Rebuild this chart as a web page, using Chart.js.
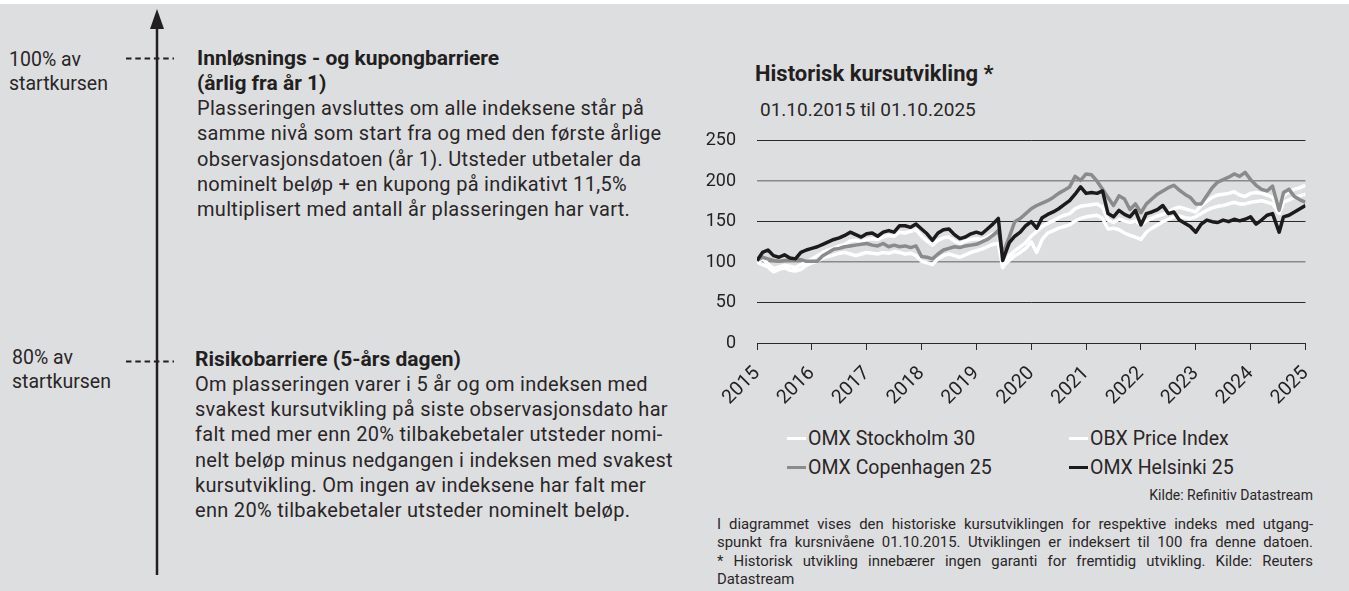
<!DOCTYPE html>
<html><head><meta charset="utf-8">
<script src="https://cdn.jsdelivr.net/npm/chart.js@4"></script>
<style>
html,body{margin:0;padding:0;}
body{width:1349px;height:591px;background:#dddee0;position:relative;overflow:hidden;font-family:Roboto,"DejaVu Sans",sans-serif;color:#231f20;}
#topband{position:absolute;left:0;top:0;width:1349px;height:4px;background:#fff;}
.t{position:absolute;white-space:nowrap;}
.blk{position:absolute;white-space:nowrap;line-height:25.3px;font-size:20px;letter-spacing:0.3px;color:#2a2627;}
.blk .h{font-weight:bold;font-size:21px;letter-spacing:0;color:#231f20;}
.lab{position:absolute;white-space:nowrap;font-size:19.5px;line-height:24px;color:#2a2627;}
.leg{position:absolute;white-space:nowrap;font-size:19.5px;line-height:24px;color:#2a2627;}
.sw{display:inline-block;width:19px;height:3px;vertical-align:middle;margin-right:2px;position:relative;top:-1px;}
.fn{position:absolute;left:717px;top:515px;width:596px;font-size:14.9px;line-height:18.3px;color:#2a2627;}
.fn div{text-align:justify;text-align-last:justify;white-space:nowrap;}
.fn div.last{text-align-last:left;}
</style>
</head><body>
<div id="topband"></div>
<svg style="position:absolute;left:0;top:0" width="400" height="591">
<line x1="157" y1="26" x2="157" y2="575" stroke="#231f20" stroke-width="2.5"/>
<polygon points="157,9 150,29 164,29" fill="#231f20"/>
<line x1="126" y1="58.5" x2="174" y2="58.5" stroke="#231f20" stroke-width="2" stroke-dasharray="5.5,3.8"/>
<line x1="126" y1="361.5" x2="174" y2="361.5" stroke="#231f20" stroke-width="2" stroke-dasharray="5.5,3.8"/>
</svg>
<div class="lab" style="left:9px;top:48px">100% av<br>startkursen</div>
<div class="lab" style="left:12px;top:346px">80% av<br>startkursen</div>
<div class="blk" style="left:197px;top:45.5px">
<div class="h">Innløsnings - og kupongbarriere</div>
<div class="h">(årlig fra år 1)</div>
<div>Plasseringen avsluttes om alle indeksene står på</div>
<div>samme nivå som start fra og med den første årlige</div>
<div>observasjonsdatoen (år 1). Utsteder utbetaler da</div>
<div>nominelt beløp + en kupong på indikativt 11,5%</div>
<div>multiplisert med antall år plasseringen har vart.</div>
</div>
<div class="blk" style="left:195px;top:346.5px">
<div class="h">Risikobarriere (5-års dagen)</div>
<div>Om plasseringen varer i 5 år og om indeksen med</div>
<div>svakest kursutvikling på siste observasjonsdato har</div>
<div>falt med mer enn 20% tilbakebetaler utsteder nomi-</div>
<div>nelt beløp minus nedgangen i indeksen med svakest</div>
<div>kursutvikling. Om ingen av indeksene har falt mer</div>
<div>enn 20% tilbakebetaler utsteder nominelt beløp.</div>
</div>

<div class="t" style="left:755px;top:61px;font-size:22px;line-height:26px;font-weight:bold;">Historisk kursutvikling *</div>
<div class="t" style="left:760px;top:98px;font-size:19px;line-height:24px;color:#2a2627;">01.10.2015 til 01.10.2025</div>

<div style="position:absolute;left:690px;top:109px;width:644px;height:311px;">
<canvas id="c" width="644" height="311"></canvas>
</div>

<div class="leg" style="left:787px;top:427px"><span class="sw" style="background:#ffffff"></span>OMX Stockholm 30</div>
<div class="leg" style="left:1069px;top:427px"><span class="sw" style="background:#ffffff"></span>OBX Price Index</div>
<div class="leg" style="left:787px;top:456px"><span class="sw" style="background:#8b8b8b"></span>OMX Copenhagen 25</div>
<div class="leg" style="left:1069px;top:456px"><span class="sw" style="background:#1c1a1b"></span>OMX Helsinki 25</div>
<div class="t" style="left:1100px;width:213px;text-align:right;top:486px;font-size:14px;line-height:18px;color:#2a2627;">Kilde: Refinitiv Datastream</div>
<div class="fn">
<div>I diagrammet vises den historiske kursutviklingen for respektive indeks med utgang-</div>
<div>spunkt fra kursnivåene 01.10.2015. Utviklingen er indeksert til 100 fra denne datoen.</div>
<div>* Historisk utvikling innebærer ingen garanti for fremtidig utvikling. Kilde: Reuters</div>
<div class="last">Datastream</div>
</div>

<script>
// Years since 01.10.2015
const yearsSinceStart = [
 0,0.1,0.2,0.3,0.4,0.5,0.6,0.7,0.8,0.9,
 1,1.1,1.2,1.3,1.4,1.5,1.6,1.7,1.8,1.9,
 2,2.1,2.2,2.3,2.4,2.5,2.6,2.7,2.8,2.9,
 3,3.1,3.2,3.3,3.4,3.5,3.6,3.7,3.8,3.9,
 4,4.1,4.2,4.3,4.4,4.48,4.6,4.7,4.8,4.9,
 5,5.1,5.2,5.3,5.4,5.5,5.6,5.7,5.8,5.9,
 6,6.1,6.2,6.3,6.4,6.5,6.6,6.7,6.8,6.9,
 7,7.1,7.2,7.3,7.4,7.5,7.6,7.7,7.8,7.9,
 8,8.1,8.2,8.3,8.4,8.5,8.6,8.7,8.8,8.9,
 9,9.1,9.2,9.3,9.4,9.52,9.6,9.7,9.8,9.9,10
];
const tickLabels = ['2015','2016','2017','2018','2019','2020','2021','2022','2023','2024','2025'];

const omxStockholm30 = [
 100,97,94,88,91,93,90,89,91,96,
 99,101,105,107,109,111,112,110,108,110,
 112,111,110,112,111,113,112,110,111,108,
 101,99,97,104,108,110,108,106,109,112,
 114,116,119,122,123,93,108,114,119,124,
 132,138,144,148,151,155,158,160,166,169,
 170,171,172,168,152,149,153,151,149,151,
 146,151,154,157,159,162,166,168,166,164,
 162,170,175,180,183,184,185,187,183,181,
 185,186,185,183,180,165,182,187,190,192,195
];
const obxPriceIndex = [
 100,104,98,92,94,96,95,93,97,100,
 104,108,112,115,117,120,122,126,127,125,
 128,129,128,131,133,132,137,136,138,140,
 132,126,121,127,130,131,126,123,126,128,
 129,128,131,135,138,95,102,108,112,117,
 125,112,128,136,139,142,144,146,151,154,
 156,157,158,154,141,142,140,136,133,131,
 128,137,142,146,150,153,156,157,155,154,
 156,160,164,167,169,170,172,174,172,172,
 174,175,176,174,172,160,174,177,180,182,184
];
const omxCopenhagen25 = [
 102,106,104,102,101,102,103,104,103,101,
 101,101,108,112,116,117,119,120,121,122,
 123,121,120,123,119,121,119,120,118,120,
 107,106,104,110,115,117,119,118,120,121,
 122,125,128,133,139,110,131,150,154,160,
 166,170,173,176,180,185,189,193,206,201,
 209,208,200,190,180,170,182,178,165,172,
 161,172,178,184,188,192,195,189,184,180,
 172,172,182,192,199,202,205,209,206,211,
 202,195,190,188,194,164,186,190,181,177,174
];
const omxHelsinki25 = [
 102,112,115,108,106,109,105,104,112,115,
 117,119,122,125,128,130,133,137,134,131,
 135,136,132,137,139,137,145,145,143,147,
 141,135,127,136,140,141,134,129,131,135,
 137,135,141,147,154,102,124,132,137,145,
 150,142,155,159,162,166,171,176,184,193,
 185,186,185,188,160,156,164,159,156,164,
 146,160,162,165,170,160,162,152,148,144,
 137,147,152,150,149,152,150,153,151,153,
 156,147,152,158,160,137,156,158,162,166,170
];

const toXY = arr => arr.map((v,i)=>({x:yearsSinceStart[i], y:v}));
const isGray = c => c.tick && (c.tick.value===100 || c.tick.value===200);

new Chart(document.getElementById('c'), {
  type:'line',
  data:{datasets:[
    {label:'OMX Stockholm 30', data:toXY(omxStockholm30), borderColor:'#ffffff', order:3},
    {label:'OBX Price Index', data:toXY(obxPriceIndex), borderColor:'#ffffff', order:2},
    {label:'OMX Copenhagen 25', data:toXY(omxCopenhagen25), borderColor:'#8b8b8b', order:1},
    {label:'OMX Helsinki 25', data:toXY(omxHelsinki25), borderColor:'#1c1a1b', order:0}
  ]},
  options:{
    responsive:false, animation:false,
    layout:{padding:{top:9,right:6,left:0,bottom:0}},
    elements:{point:{radius:0}, line:{tension:0, borderWidth:3.5, borderJoinStyle:'round', fill:false}},
    plugins:{legend:{display:false}, tooltip:{enabled:false}},
    scales:{
      x:{type:'linear', min:0, max:10,
         afterFit(s){ s.height = 77; },
         ticks:{stepSize:1, autoSkip:false, maxRotation:45, minRotation:45, padding:12, color:'#231f20',
                font:{family:'Roboto', size:19.5}, callback:(v,i)=>tickLabels[i]},
         grid:{drawOnChartArea:false, drawTicks:true, tickLength:7, color:'#2a2a2a', lineWidth:1},
         border:{display:true, color:'#2a2a2a', width:1}},
      y:{min:0, max:250,
         afterFit(s){ s.width = 67; },
         ticks:{stepSize:50, padding:21, color:'#231f20', font:{family:'Roboto', size:18}},
         grid:{drawTicks:false, color:c=>isGray(c)?'#8a8a8a':'#2a2a2a', lineWidth:c=>isGray(c)?1.6:1},
         border:{display:false}}
    }
  }
});
</script>
</body></html>
